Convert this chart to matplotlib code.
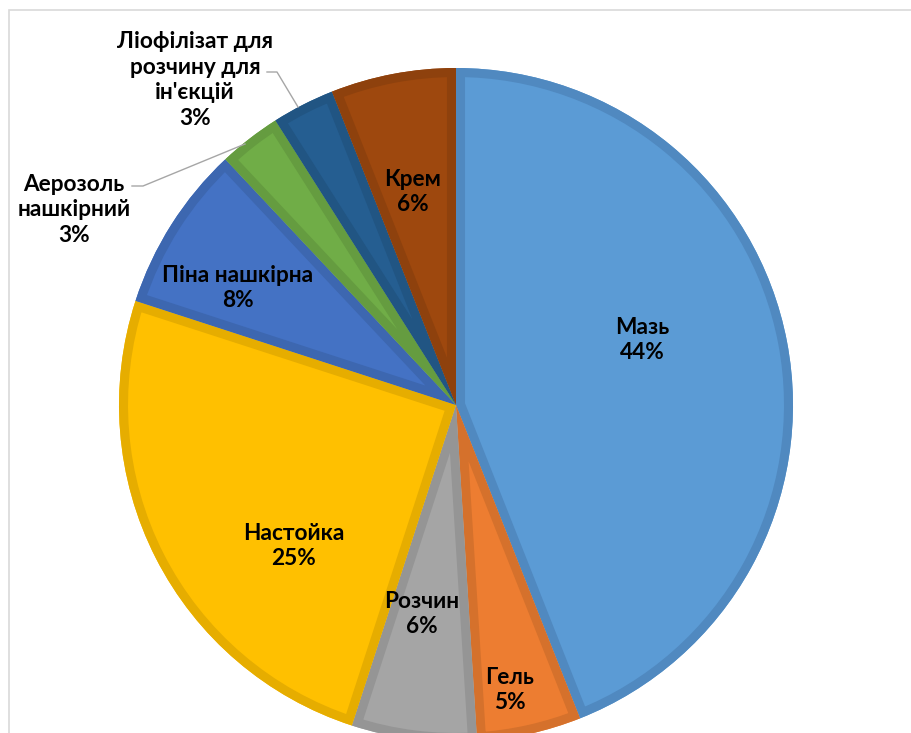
import matplotlib
matplotlib.use("Agg")
import matplotlib.pyplot as plt
from matplotlib.patches import Rectangle, Wedge

plt.rcParams['font.family'] = ['Lato', 'DejaVu Sans']

# share of dosage forms, clockwise from 12 o'clock
labels = ['Мазь', 'Гель', 'Розчин', 'Настойка', 'Піна нашкірна',
          'Аерозоль\nнашкірний', "Ліофілізат для\nрозчину для\nін'єкцій", 'Крем']
shares = [44, 5, 6, 25, 8, 3, 3, 6]

fills = ['#5B9BD5', '#ED7D31', '#A5A5A5', '#FFC000', '#4472C4', '#70AD47', '#255E91', '#9E480E']
edges = ['#5089C0', '#D5712C', '#959595', '#E6AD00', '#3D67B0', '#659C40', '#215583', '#8E410D']

W, H = 912, 733
fig = plt.figure(figsize=(W / 100, H / 100), dpi=100)
ax = fig.add_axes([0, 0, 1, 1])

cx, cy, R = 456, H - 405, 337
wedges, _ = ax.pie(shares, colors=fills, startangle=90, counterclock=False,
                   center=(cx, cy), radius=R,
                   wedgeprops=dict(linewidth=0))

# darker border drawn inside each slice (clipped to the slice itself)
for w, ec in zip(wedges, edges):
    b = Wedge(w.center, w.r, w.theta1, w.theta2, facecolor='none',
              edgecolor=ec, linewidth=13, joinstyle='miter')
    ax.add_patch(b)
    b.set_clip_path(w)

ax.set_xlim(0, W)
ax.set_ylim(0, H)
ax.set_aspect('equal')
ax.axis('off')

# label centres in pixels (x, y from top)
label_pos = [(642, 340), (510, 690), (422, 614), (294, 546), (238, 288),
             (74, 210), (195, 80), (413, 192)]
for lab, val, (x, y) in zip(labels, shares, label_pos):
    ax.text(x, H - y, f'{lab}\n{val}%', ha='center', va='center',
            fontsize=16.3, fontweight='bold', color='black', linespacing=1.28)

# leader lines for the outside labels
ax.plot([132, 143, 245], [H - 186, H - 186, H - 144], color='#A6A6A6', lw=1)
ax.plot([267, 277, 298], [H - 72, H - 72, H - 107], color='#A6A6A6', lw=1)

# chart area frame (cut off at right and bottom)
ax.add_patch(Rectangle((9, -20), 1000, H - 10 + 20, fill=False,
                       edgecolor='#D9D9D9', lw=1.2, clip_on=False))

fig.savefig('out.png', dpi=100)
